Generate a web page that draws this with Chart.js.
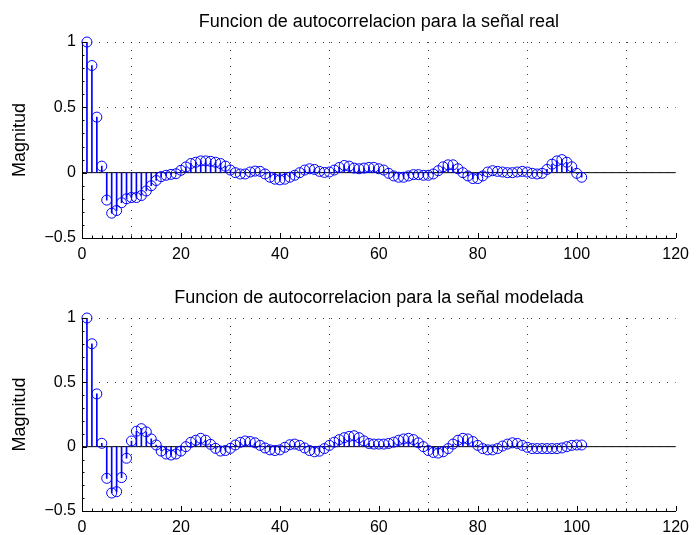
<!DOCTYPE html>
<html>
<head>
<meta charset="utf-8">
<script src="https://cdn.jsdelivr.net/npm/chart.js@4.4.0/dist/chart.umd.min.js"></script>
<style>
    body { margin: 0; background: #fff; }
    canvas { position: absolute; left: 0; }
    #chartReal { top: 0; }
    #chartModel { top: 270px; }
</style>
</head>
<body>
<canvas id="chartReal" width="696" height="270"></canvas>
<canvas id="chartModel" width="696" height="265"></canvas>
<script>
// autocorrelation, lags 1..101
const realValues = [
    1.0, 0.82, 0.425, 0.05, -0.21, -0.31, -0.29, -0.23, -0.2, -0.19,
    -0.19, -0.175, -0.14, -0.1, -0.06, -0.03, -0.02, -0.013, -0.008, 0.018,
    0.044, 0.07, 0.08, 0.09, 0.09, 0.087, 0.08, 0.07, 0.05, 0.02,
    0.0, -0.01, -0.01, 0.005, 0.012, 0.01, -0.01, -0.035, -0.05, -0.055,
    -0.05, -0.035, -0.02, 0.0, 0.02, 0.03, 0.025, 0.01, 0.002, 0.005,
    0.02, 0.04, 0.055, 0.05, 0.035, 0.03, 0.035, 0.04, 0.04, 0.03,
    0.02, -0.005, -0.025, -0.035, -0.035, -0.025, -0.015, -0.015, -0.02, -0.02,
    -0.01, 0.015, 0.045, 0.06, 0.06, 0.03, 0.0, -0.025, -0.045, -0.045,
    -0.025, 0.005, 0.015, 0.01, 0.005, 0.0, 0.0, 0.005, 0.01, 0.005,
    -0.005, -0.01, -0.005, 0.025, 0.065, 0.09, 0.1, 0.08, 0.045, -0.005,
    -0.035
];
const modelValues = [
    1.0, 0.80, 0.41, 0.026, -0.246, -0.36, -0.35, -0.24, -0.09, 0.044,
    0.12, 0.14, 0.115, 0.06, 0.013, -0.034, -0.057, -0.065, -0.057, -0.034,
    0.0, 0.034, 0.05, 0.065, 0.05, 0.018, -0.013, -0.034, -0.03, -0.013,
    0.013, 0.034, 0.044, 0.04, 0.03, 0.01, -0.01, -0.025, -0.03, -0.025,
    -0.005, 0.015, 0.02, 0.01, -0.01, -0.03, -0.04, -0.035, -0.015, 0.01,
    0.035, 0.055, 0.07, 0.08, 0.085, 0.07, 0.045, 0.025, 0.02, 0.02,
    0.02, 0.025, 0.035, 0.05, 0.06, 0.065, 0.055, 0.03, 0.0, -0.03,
    -0.045, -0.05, -0.04, -0.015, 0.02, 0.05, 0.065, 0.06, 0.04, 0.01,
    -0.015, -0.025, -0.025, -0.015, 0.005, 0.02, 0.03, 0.025, 0.01, -0.005,
    -0.015, -0.015, -0.015, -0.015, -0.015, -0.015, -0.01, 0.0, 0.01, 0.013,
    0.013
];
const xTicks = [0, 20, 40, 60, 80, 100, 120];
const yTicks = [-0.5, 0, 0.5, 1];
const baseline = [0, 120];

const FONT = "'Liberation Sans', Arial, Helvetica, sans-serif";
const BLUE = '#0000ff';

// MATLAB style ticks pointing into the axes
const innerTicks = {
    id: 'innerTicks',
    afterDraw(chart) {
        const ctx = chart.ctx;
        const xs = chart.scales.x, ys = chart.scales.y;
        const area = chart.chartArea;
        ctx.save();
        ctx.strokeStyle = '#000';
        ctx.lineWidth = 1;
        ctx.beginPath();
        for (let v = 0; v <= 120; v += 2) {
            const px = Math.round(xs.getPixelForValue(v)) + 0.5;
            const len = xTicks.includes(v) ? 5 : 2.5;
            ctx.moveTo(px, area.bottom);
            ctx.lineTo(px, area.bottom - len);
        }
        for (let k = -5; k <= 10; k++) {
            const py = Math.round(ys.getPixelForValue(k / 10)) + 0.5;
            const len = k % 5 === 0 ? 5 : 2.5;
            ctx.moveTo(area.left, py);
            ctx.lineTo(area.left + len, py);
        }
        ctx.stroke();
        ctx.restore();
    }
};

function fmt(v) {
    return v < 0 ? '\u2212' + Math.abs(v) : String(v);
}

function stemChart(canvasId, title, values, titlePad, xHeight) {
    const pts = values.map((v, i) => ({ x: i + 1, y: v }));
    const ctx = document.getElementById(canvasId).getContext('2d');
    return new Chart(ctx, {
        type: 'scatter',
        data: {
            datasets: [{
                type: 'scatter',
                data: pts,
                showLine: false,
                pointStyle: 'circle',
                pointRadius: 5,
                pointBorderWidth: 1,
                pointBorderColor: BLUE,
                pointBackgroundColor: 'rgba(0,0,0,0)',
                clip: false,
                order: 0
            }, {
                type: 'bar',
                data: pts,
                barThickness: 1,
                backgroundColor: BLUE,
                borderWidth: 0,
                order: 1
            }, {
                type: 'line',
                data: baseline.map(x => ({ x: x, y: 0 })),
                borderColor: '#000',
                borderWidth: 1,
                pointRadius: 0,
                order: 2
            }]
        },
        options: {
            responsive: false,
            animation: false,
            layout: { padding: { left: 0, right: 18, top: 0, bottom: 0 } },
            plugins: {
                legend: { display: false },
                tooltip: { enabled: false },
                title: {
                    display: true,
                    fullSize: false,
                    text: title,
                    color: '#000',
                    font: { family: FONT, size: 18, weight: 'normal' },
                    padding: titlePad
                }
            },
            scales: {
                x: {
                    type: 'linear',
                    min: 0,
                    max: 120,
                    offset: false,
                    afterBuildTicks: s => { s.ticks = xTicks.map(v => ({ value: v })); },
                    afterFit: s => { s.height = xHeight; },
                    ticks: { color: '#000', font: { family: FONT, size: 16 }, padding: 7, maxRotation: 0, autoSkip: false },
                    grid: { color: 'rgba(0,0,0,0.75)', lineWidth: 1, drawTicks: false },
                    border: { color: '#000', width: 1, dash: [1, 7] }
                },
                y: {
                    min: -0.5,
                    max: 1,
                    afterBuildTicks: s => { s.ticks = yTicks.map(v => ({ value: v })); },
                    afterFit: s => { s.width = 82; },
                    ticks: { color: '#000', font: { family: FONT, size: 16 }, padding: 6, callback: v => fmt(v) },
                    grid: { color: 'rgba(0,0,0,0.75)', lineWidth: 1, drawTicks: false },
                    border: { color: '#000', width: 1, dash: [1, 7] },
                    title: {
                        display: true,
                        text: 'Magnitud',
                        color: '#000',
                        font: { family: FONT, size: 18 },
                        padding: { top: 9, bottom: 0 }
                    }
                }
            }
        },
        plugins: [innerTicks]
    });
}

stemChart('chartReal', 'Funcion de autocorrelacion para la señal real', realValues, { top: 11.2, bottom: 9.2 }, 32);
stemChart('chartModel', 'Funcion de autocorrelacion para la señal modelada', modelValues, { top: 17.5, bottom: 8.9 }, 24);
</script>
</body>
</html>
